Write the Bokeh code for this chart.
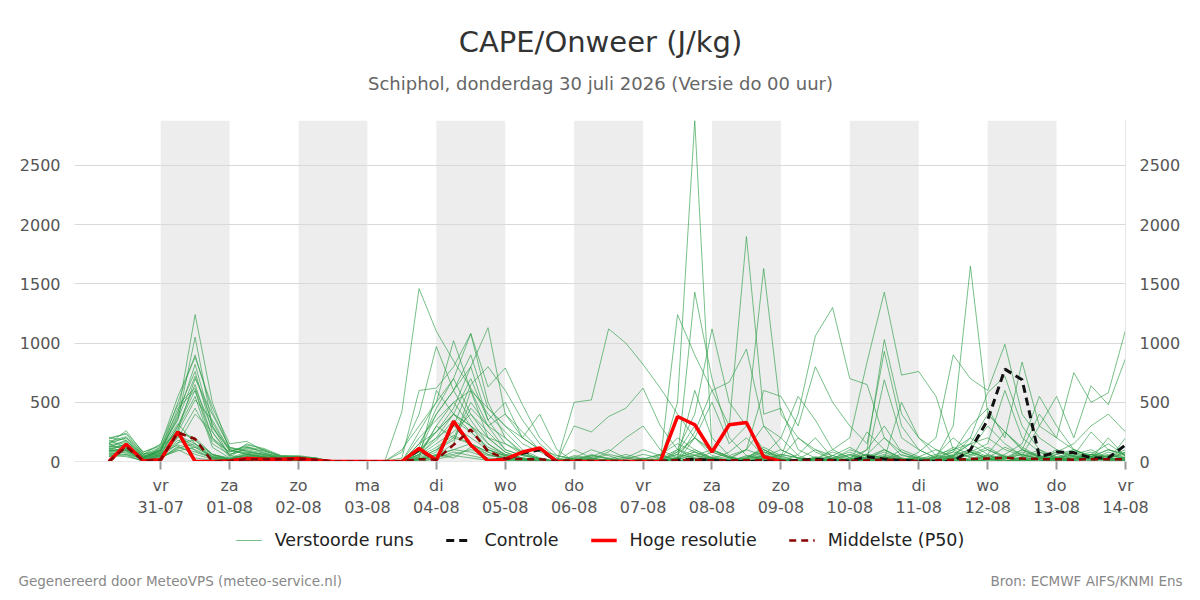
from bokeh.plotting import figure
from bokeh.layouts import column
from bokeh.models import (Range1d, FixedTicker, LinearAxis, BoxAnnotation, Label,
                          Legend, LegendItem)
from bokeh.embed import file_html
from bokeh.resources import INLINE

# ---------------- data ----------------
day_names = ["vr", "za", "zo", "ma", "di", "wo", "do", "vr", "za", "zo", "ma", "di", "wo", "do", "vr"]
day_dates = ["31-07", "01-08", "02-08", "03-08", "04-08", "05-08", "06-08", "07-08",
             "08-08", "09-08", "10-08", "11-08", "12-08", "13-08", "14-08"]
shaded_dates = ["31-07", "02-08", "04-08", "06-08", "08-08", "10-08", "12-08"]
y_ticks = [0, 500, 1000, 1500, 2000, 2500]

title_text = "CAPE/Onweer (J/kg)"
subtitle_text = "Schiphol, donderdag 30 juli 2026 (Versie do 00 uur)"
footer_left = "Gegenereerd door MeteoVPS (meteo-service.nl)"
footer_right = "Bron: ECMWF AIFS/KNMI Ens"
legend_labels = ["Verstoorde runs", "Controle", "Hoge resolutie", "Middelste (P50)"]

first_time = -0.75   # 30-07 06:00, in days relative to 31-07 00:00
time_step = 0.25     # 6-hourly

hres = [0, 145, 5, 15, 250, 0, 0, 5, 25, 20, 20, 25,
        10, 0, 0, 0, 0, 0, 110, 10, 340, 140, 5, 20,
        80, 115, 0, 0, 0, 0, 0, 0, 0, 380, 310, 80,
        310, 330, 40, 0]

control = [0, 140, 5, 15, 250, 0, 0, 5, 20, 20, 20, 20,
           10, 0, 0, 0, 0, 0, 100, 10, 330, 140, 5, 20,
           70, 100, 0, 0, 0, 0, 0, 0, 0, 10, 20, 10,
           0, 0, 0, 0, 10, 20, 10, 5, 40, 20, 10, 5,
           0, 0, 100, 350, 780, 690, 40, 80, 75, 30, 30, 140]

p50 = [0, 125, 5, 15, 245, 190, 0, 5, 20, 20, 20, 25,
       15, 0, 0, 0, 0, 0, 20, 15, 140, 270, 85, 25,
       20, 20, 5, 10, 5, 5, 5, 5, 5, 10, 15, 10,
       10, 10, 10, 5, 5, 10, 10, 5, 10, 15, 10, 5,
       10, 15, 20, 25, 30, 25, 20, 20, 15, 20, 20, 20]

run_01 = [150, 200, 40, 90, 400, 1240, 500, 100, 60, 40, 20, 30,
          20, 0, 0, 0, 0, 0, 60, 300, 200, 150, 80, 30,
          20, 10, 0, 40, 20, 10, 0, 0, 20, 60, 30, 10,
          0, 20, 80, 40, 10, 0, 0, 20, 60, 30, 10, 0,
          20, 50, 100, 40, 20, 60, 30, 10, 40, 80, 30, 60]
run_02 = [200, 230, 60, 120, 350, 1050, 300, 50, 150, 100, 40, 40,
          30, 0, 0, 0, 0, 420, 1460, 1100, 850, 620, 400, 250,
          100, 30, 0, 0, 60, 20, 0, 0, 0, 30, 80, 20,
          10, 0, 40, 100, 30, 10, 0, 50, 20, 0, 10, 30,
          0, 20, 60, 120, 40, 20, 0, 60, 100, 30, 20, 40]
run_03 = [120, 180, 30, 100, 500, 900, 420, 120, 80, 60, 30, 20,
          10, 0, 0, 0, 0, 80, 400, 970, 600, 350, 150, 60,
          30, 10, 0, 100, 30, 0, 0, 20, 60, 150, 80, 30,
          0, 30, 120, 50, 0, 20, 80, 30, 0, 40, 10, 0,
          30, 10, 0, 60, 250, 120, 40, 20, 80, 30, 10, 200]
run_04 = [100, 150, 20, 60, 300, 650, 200, 40, 120, 80, 30, 40,
          20, 0, 0, 0, 0, 0, 250, 500, 1020, 600, 300, 100,
          50, 20, 0, 500, 520, 1120, 1000, 820, 620, 400, 200, 50,
          20, 0, 50, 20, 0, 30, 10, 0, 40, 100, 20, 0,
          10, 40, 80, 30, 10, 0, 30, 60, 20, 40, 100, 60]
run_05 = [180, 120, 50, 80, 450, 600, 150, 60, 100, 70, 40, 30,
          20, 0, 0, 0, 0, 30, 600, 620, 800, 1080, 630, 790,
          480, 200, 50, 20, 0, 10, 40, 20, 0, 80, 300, 100,
          40, 10, 0, 30, 200, 100, 20, 0, 60, 30, 10, 40,
          100, 30, 10, 50, 20, 80, 40, 10, 30, 60, 20, 10]
run_06 = [80, 100, 30, 120, 250, 520, 350, 100, 60, 30, 20, 20,
          10, 0, 0, 0, 0, 0, 150, 400, 600, 800, 1130, 400,
          200, 100, 20, 0, 20, 60, 30, 10, 0, 20, 1430, 700,
          200, 50, 20, 0, 10, 30, 0, 20, 60, 200, 80, 30,
          10, 20, 50, 100, 40, 0, 20, 80, 40, 10, 30, 80]
run_07 = [150, 260, 70, 50, 200, 450, 180, 80, 140, 110, 50, 40,
          30, 0, 0, 0, 0, 100, 300, 500, 700, 1080, 500, 200,
          80, 20, 0, 0, 10, 0, 0, 20, 0, 500, 2880, 100,
          40, 10, 0, 60, 30, 0, 20, 100, 50, 20, 0, 10,
          40, 120, 60, 20, 0, 40, 10, 30, 70, 20, 50, 30]
run_08 = [60, 80, 10, 40, 150, 400, 250, 50, 30, 20, 10, 10,
          0, 0, 0, 0, 0, 0, 80, 250, 400, 300, 100, 50,
          20, 10, 0, 30, 10, 0, 0, 0, 0, 1240, 900, 600,
          300, 1900, 400, 450, 100, 30, 0, 0, 20, 60, 20, 0,
          10, 30, 0, 20, 50, 10, 0, 30, 100, 40, 10, 20]
run_09 = [120, 140, 40, 70, 280, 550, 120, 30, 50, 40, 20, 20,
          10, 0, 0, 0, 0, 0, 50, 150, 250, 400, 250, 100,
          50, 20, 0, 50, 30, 10, 0, 0, 30, 100, 400, 1120,
          500, 300, 1630, 400, 200, 80, 20, 0, 100, 300, 80, 20,
          0, 50, 150, 60, 20, 100, 40, 0, 20, 60, 150, 50]
run_10 = [90, 110, 20, 100, 320, 150, 60, 20, 40, 30, 20, 30,
          20, 0, 0, 0, 0, 0, 100, 200, 300, 200, 100, 50,
          20, 0, 0, 0, 40, 100, 30, 0, 20, 0, 200, 500,
          150, 300, 100, 40, 400, 1060, 1300, 700, 650, 200, 50, 30,
          0, 20, 80, 30, 0, 10, 40, 20, 0, 60, 20, 30]
run_11 = [140, 170, 60, 90, 380, 820, 300, 90, 70, 50, 30, 30,
          10, 0, 0, 0, 0, 0, 30, 100, 200, 500, 300, 200,
          60, 20, 0, 0, 0, 20, 10, 0, 50, 200, 100, 30,
          10, 40, 100, 30, 0, 20, 100, 200, 840, 1430, 730, 760,
          550, 100, 30, 0, 40, 20, 80, 30, 10, 40, 100, 50]
run_12 = [70, 90, 10, 50, 180, 120, 40, 20, 30, 20, 10, 20,
          10, 0, 0, 0, 0, 0, 60, 180, 350, 250, 100, 40,
          20, 0, 0, 20, 50, 20, 0, 10, 0, 60, 200, 80,
          30, 100, 50, 0, 20, 0, 30, 80, 20, 690, 200, 100,
          30, 300, 1650, 400, 250, 100, 50, 30, 20, 60, 40, 100]
run_13 = [110, 130, 30, 110, 260, 700, 400, 120, 90, 60, 30, 20,
          10, 0, 0, 0, 0, 0, 40, 300, 500, 600, 450, 300,
          150, 80, 20, 0, 0, 0, 20, 60, 30, 0, 50, 100,
          40, 0, 20, 60, 30, 0, 50, 120, 40, 20, 0, 80,
          200, 900, 700, 600, 990, 400, 200, 100, 50, 20, 80, 30]
run_14 = [50, 60, 0, 30, 120, 80, 30, 10, 20, 10, 0, 10,
          0, 0, 0, 0, 0, 0, 20, 50, 100, 150, 80, 20,
          0, 0, 0, 20, 0, 0, 0, 0, 0, 40, 100, 30,
          0, 20, 50, 10, 0, 40, 20, 0, 30, 80, 20, 0,
          40, 80, 300, 450, 200, 840, 300, 200, 750, 500, 580, 1110]
run_15 = [160, 200, 80, 130, 420, 760, 250, 60, 110, 90, 40, 40,
          20, 0, 0, 0, 0, 0, 100, 250, 400, 700, 350, 150,
          60, 30, 0, 0, 20, 0, 0, 30, 0, 20, 60, 20,
          0, 30, 80, 20, 10, 0, 20, 60, 10, 40, 0, 20,
          60, 100, 150, 200, 100, 50, 300, 550, 200, 640, 480, 870]
run_16 = [100, 70, 20, 60, 220, 150, 40, 20, 60, 40, 20, 20,
          0, 0, 0, 0, 0, 0, 200, 350, 500, 300, 200, 150,
          80, 20, 0, 300, 250, 380, 450, 620, 300, 100, 20, 0,
          20, 100, 300, 200, 50, 0, 30, 10, 0, 50, 20, 30,
          0, 40, 200, 100, 30, 60, 20, 0, 50, 20, 200, 40]
run_17 = [90, 100, 40, 80, 300, 600, 200, 80, 130, 70, 30, 30,
          20, 0, 0, 0, 0, 0, 80, 400, 600, 900, 450, 300,
          200, 100, 50, 20, 10, 0, 30, 100, 50, 20, 250, 600,
          670, 950, 300, 100, 30, 0, 20, 60, 30, 10, 100, 40,
          20, 100, 200, 580, 720, 300, 100, 20, 60, 100, 30, 10]
run_18 = [130, 160, 50, 40, 250, 200, 60, 30, 80, 60, 20, 20,
          10, 0, 0, 0, 0, 0, 30, 600, 400, 250, 120, 60,
          30, 0, 0, 30, 100, 50, 0, 0, 0, 30, 600, 200,
          50, 100, 600, 550, 300, 800, 500, 300, 150, 930, 300, 100,
          30, 50, 100, 300, 150, 50, 20, 40, 10, 30, 60, 20]
run_19 = [60, 40, 10, 20, 130, 60, 20, 10, 20, 10, 0, 10,
          0, 0, 0, 0, 0, 0, 0, 50, 150, 600, 200, 80,
          20, 0, 0, 0, 30, 0, 0, 0, 0, 0, 30, 10,
          0, 50, 20, 0, 0, 0, 0, 30, 100, 1030, 400, 200,
          50, 20, 80, 150, 600, 200, 80, 30, 50, 250, 100, 60]
run_20 = [200, 180, 60, 150, 480, 620, 280, 110, 90, 50, 30, 30,
          10, 0, 0, 0, 0, 0, 150, 250, 450, 800, 350, 500,
          200, 400, 100, 0, 0, 20, 60, 20, 0, 100, 50, 20,
          0, 30, 100, 20, 0, 30, 10, 0, 20, 100, 30, 0,
          20, 80, 40, 10, 30, 100, 400, 200, 100, 40, 10, 20]
run_21 = [80, 120, 30, 70, 240, 90, 30, 10, 40, 30, 10, 10,
          0, 0, 0, 0, 0, 0, 40, 120, 220, 150, 60, 30,
          10, 0, 0, 0, 0, 10, 0, 0, 0, 0, 0, 30,
          10, 0, 40, 10, 0, 0, 20, 0, 0, 20, 0, 0,
          0, 0, 20, 50, 10, 0, 0, 10, 30, 10, 0, 10]
run_22 = [170, 210, 60, 100, 360, 720, 330, 90, 120, 100, 40, 40,
          20, 0, 0, 0, 0, 0, 20, 80, 300, 650, 800, 600,
          350, 150, 30, 0, 10, 0, 0, 20, 60, 0, 20, 80,
          30, 0, 10, 0, 60, 200, 30, 0, 40, 20, 500, 200,
          100, 40, 0, 20, 60, 150, 550, 300, 100, 50, 20, 80]
run_23 = [40, 50, 0, 30, 100, 30, 10, 0, 10, 10, 0, 0,
          0, 0, 0, 0, 0, 0, 10, 60, 100, 80, 30, 10,
          0, 0, 0, 0, 0, 0, 0, 0, 0, 0, 10, 0,
          0, 0, 20, 0, 0, 0, 0, 0, 0, 0, 0, 0,
          0, 0, 10, 0, 0, 20, 0, 0, 0, 0, 10, 0]
run_24 = [110, 90, 20, 50, 210, 130, 50, 20, 70, 40, 20, 20,
          10, 0, 0, 0, 0, 0, 120, 450, 700, 400, 200, 80,
          30, 10, 0, 0, 20, 80, 200, 300, 100, 30, 0, 20,
          80, 200, 50, 0, 20, 100, 50, 0, 250, 100, 30, 0,
          20, 60, 150, 400, 250, 100, 30, 80, 150, 300, 400, 250]
run_25 = [190, 240, 80, 140, 550, 880, 460, 150, 170, 90, 50, 50,
          30, 0, 0, 0, 0, 0, 60, 200, 400, 300, 150, 50,
          20, 0, 0, 0, 0, 0, 0, 0, 20, 80, 200, 100,
          30, 10, 50, 200, 550, 350, 100, 30, 0, 20, 60, 10,
          0, 30, 80, 20, 0, 40, 100, 40, 20, 60, 20, 10]
run_26 = [130, 110, 30, 90, 260, 180, 60, 20, 60, 40, 20, 20,
          10, 0, 0, 0, 0, 0, 20, 100, 180, 450, 300, 400,
          250, 100, 0, 10, 50, 30, 0, 0, 10, 30, 80, 20,
          0, 20, 60, 20, 0, 10, 50, 20, 0, 40, 10, 0,
          50, 200, 80, 30, 120, 60, 20, 100, 40, 20, 50, 30]
run_27 = [70, 60, 20, 40, 90, 120, 40, 10, 30, 20, 10, 10,
          0, 0, 0, 0, 0, 0, 10, 40, 60, 100, 50, 30,
          10, 0, 0, 10, 0, 0, 0, 0, 0, 20, 50, 10,
          0, 10, 0, 0, 0, 20, 0, 0, 10, 30, 10, 0,
          0, 10, 30, 20, 0, 10, 40, 20, 0, 10, 30, 20]
run_28 = [150, 90, 30, 60, 160, 180, 60, 20, 50, 30, 20, 20,
          10, 0, 0, 0, 0, 0, 0, 30, 80, 50, 20, 10,
          0, 0, 0, 0, 10, 0, 0, 0, 0, 0, 20, 0,
          0, 0, 30, 10, 0, 0, 10, 0, 0, 0, 20, 0,
          0, 20, 0, 10, 40, 0, 0, 20, 10, 0, 0, 10]
run_29 = [90, 150, 40, 70, 140, 100, 30, 10, 40, 30, 20, 10,
          0, 0, 0, 0, 0, 0, 20, 60, 30, 120, 60, 20,
          10, 0, 0, 0, 0, 20, 0, 0, 0, 10, 0, 40,
          10, 0, 0, 20, 0, 0, 0, 10, 0, 20, 0, 0,
          10, 0, 20, 0, 0, 30, 10, 0, 20, 40, 10, 0]
run_30 = [40, 100, 10, 30, 110, 150, 20, 0, 20, 10, 0, 0,
          0, 0, 0, 0, 0, 0, 0, 20, 50, 30, 10, 0,
          0, 0, 0, 0, 0, 0, 0, 0, 10, 0, 0, 0,
          0, 0, 0, 0, 0, 0, 0, 0, 0, 10, 0, 0,
          0, 0, 10, 0, 0, 0, 0, 10, 0, 0, 0, 0]

runs = [run_01, run_02, run_03, run_04, run_05, run_06, run_07, run_08, run_09, run_10,
        run_11, run_12, run_13, run_14, run_15, run_16, run_17, run_18, run_19, run_20,
        run_21, run_22, run_23, run_24, run_25, run_26, run_27, run_28, run_29, run_30]

times = [first_time + time_step * i for i in range(len(run_01))]

# ---------------- styles ----------------
FONT = "DejaVu Sans"
W = 1200
TOP_H = 120      # title band
MAIN_H = 400     # chart (frame 342 px high + axis band)
BOT_H = 80       # legend + footer band

ENS = dict(line_color="#2e9e48", line_alpha=0.65, line_width=1)
CTRL = dict(line_color="#111111", line_width=3, line_dash="8 5")
HRES = dict(line_color="#ff0000", line_width=3.5)
P50 = dict(line_color="#8b0000", line_width=2.5, line_dash="7 5")


def bare_figure(h):
    f = figure(width=W, height=h, output_backend="svg", toolbar_location=None,
               x_range=Range1d(0, W), y_range=Range1d(0, h),
               x_axis_type=None, y_axis_type=None, frame_align=False,
               min_border_left=0, min_border_right=0, min_border_top=0, min_border_bottom=0)
    f.grid.visible = False
    f.outline_line_color = None
    f.background_fill_color = "white"
    f.border_fill_color = "white"
    return f


# ---------------- title band ----------------
top = bare_figure(TOP_H)
top.add_layout(Label(x=W / 2, y=TOP_H - 41, text=title_text, text_font=FONT,
                     text_font_size="29px", text_color="#333333",
                     text_align="center", text_baseline="middle"))
top.add_layout(Label(x=W / 2, y=TOP_H - 83, text=subtitle_text, text_font=FONT,
                     text_font_size="18px", text_color="#666666",
                     text_align="center", text_baseline="middle"))

# ---------------- main chart ----------------
p = figure(width=W, height=MAIN_H, output_backend="svg", toolbar_location=None,
           x_range=Range1d(-1.25, len(day_dates) - 1),
           y_range=Range1d(0, max(max(r) for r in runs)),
           frame_align=False,
           min_border_left=74, min_border_right=75,
           min_border_top=0, min_border_bottom=58)
p.outline_line_color = None
p.background_fill_color = "white"
p.border_fill_color = "white"

for d in shaded_dates:
    k = day_dates.index(d)
    p.add_layout(BoxAnnotation(left=k, right=k + 1, fill_color="#ededed", fill_alpha=1.0,
                               line_color=None, level="image"))

p.xgrid.grid_line_color = None
p.ygrid.ticker = FixedTicker(ticks=y_ticks)
p.ygrid.grid_line_color = "#d9d9d9"

xa = p.xaxis[0]
xa.ticker = FixedTicker(ticks=list(range(len(day_dates))))
xa.major_label_overrides = {i: f"{day_names[i]}\n{day_dates[i]}" for i in range(len(day_dates))}
xa.minor_tick_line_color = None
xa.major_tick_in = 0
xa.major_tick_out = 8
xa.major_tick_line_color = "#999999"
xa.major_tick_line_width = 2
xa.axis_line_color = "#e6e6e6"
xa.major_label_text_font = FONT
xa.major_label_text_font_size = "16px"
xa.major_label_text_color = "#555555"
xa.major_label_standoff = 6

ya = p.yaxis[0]
ya.ticker = FixedTicker(ticks=y_ticks)
ya.axis_line_color = None
ya.major_tick_line_color = None
ya.minor_tick_line_color = None
ya.major_label_text_font = FONT
ya.major_label_text_font_size = "16px"
ya.major_label_text_color = "#555555"
ya.major_label_standoff = 8

ra = LinearAxis(ticker=FixedTicker(ticks=y_ticks))
ra.axis_line_color = "#e6e6e6"
ra.major_tick_line_color = None
ra.minor_tick_line_color = None
ra.major_label_text_font = FONT
ra.major_label_text_font_size = "16px"
ra.major_label_text_color = "#555555"
ra.major_label_standoff = 8
p.add_layout(ra, "right")

for r in runs:
    p.line(times, r, **ENS)
p.line(times, control, **CTRL)
p.line(times[:len(hres)], hres, **HRES)
p.line(times, p50, **P50)

# ---------------- legend + footer band ----------------
bot = bare_figure(BOT_H)
# hidden one-point stand-ins that only carry the legend styles
leg_r = [bot.line(times[:1], run_01[:1], visible=False, **ENS),
         bot.line(times[:1], control[:1], visible=False, **CTRL),
         bot.line(times[:1], hres[:1], visible=False, **HRES),
         bot.line(times[:1], p50[:1], visible=False, **P50)]
legend = Legend(items=[LegendItem(label=lab, renderers=[rr]) for lab, rr in zip(legend_labels, leg_r)],
                orientation="horizontal", location="top_center")
legend.label_text_font = FONT
legend.label_text_font_size = "17.5px"
legend.label_text_color = "#222222"
legend.glyph_width = 26
legend.label_standoff = 13
legend.spacing = 32
legend.border_line_color = None
legend.background_fill_alpha = 0
legend.padding = 0
legend.margin = 10
bot.add_layout(legend, "center")
bot.add_layout(Label(x=18, y=BOT_H - 60, text=footer_left, text_font=FONT,
                     text_font_size="13.5px", text_color="#888888",
                     text_align="left", text_baseline="middle"))
bot.add_layout(Label(x=W - 18, y=BOT_H - 60, text=footer_right, text_font=FONT,
                     text_font_size="13.5px", text_color="#888888",
                     text_align="right", text_baseline="middle"))

layout = column(top, p, bot, spacing=0)
open("out.html", "w").write(file_html(layout, INLINE))
